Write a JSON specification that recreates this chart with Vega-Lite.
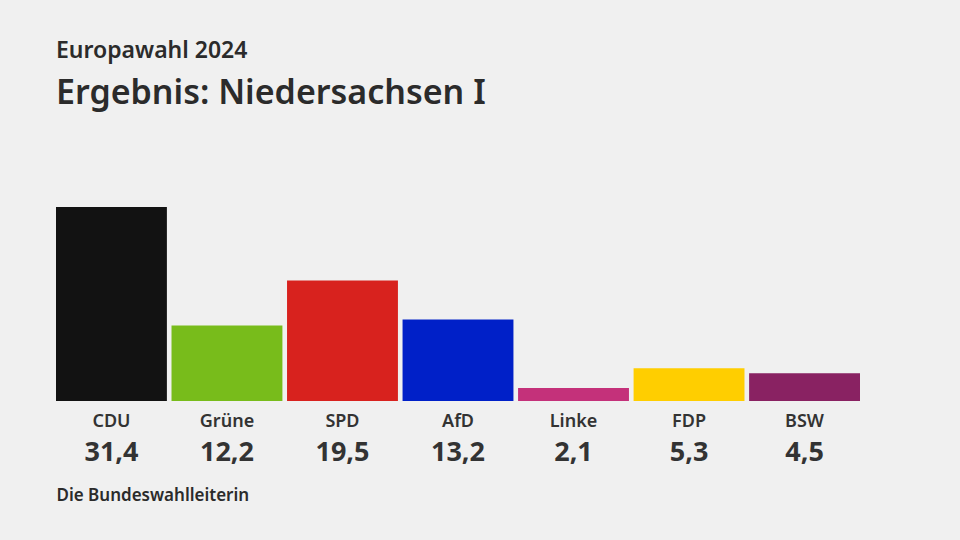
{
  "$schema": "https://vega.github.io/schema/vega-lite/v6.json",
  "width": 804,
  "height": 194,
  "autosize": {"type": "none"},
  "padding": {"left": 56, "top": 207, "right": 100, "bottom": 139},
  "background": "#f0f0f0",
  "config": {
    "view": {"stroke": null},
    "font": "Noto Sans",
    "locale": {"number": {"decimal": ",", "thousands": ".", "grouping": [3], "currency": ["", " €"]}}
  },
  "title": {
    "text": "Europawahl 2024",
    "subtitle": "Ergebnis: Niedersachsen I",
    "anchor": "start",
    "frame": "group",
    "font": "Noto Sans",
    "subtitleFont": "Noto Sans",
    "fontSize": 23,
    "subtitleFontSize": 34,
    "fontWeight": 600,
    "subtitleFontWeight": 600,
    "color": "#2b2b2b",
    "subtitleColor": "#2b2b2b",
    "subtitlePadding": 14,
    "offset": 96
  },
  "data": {
    "values": [
      {"Partei": "CDU", "Wert": 31.4},
      {"Partei": "Grüne", "Wert": 12.2},
      {"Partei": "SPD", "Wert": 19.5},
      {"Partei": "AfD", "Wert": 13.2},
      {"Partei": "Linke", "Wert": 2.1},
      {"Partei": "FDP", "Wert": 5.3},
      {"Partei": "BSW", "Wert": 4.5}
    ]
  },
  "encoding": {
    "x": {
      "field": "Partei",
      "type": "nominal",
      "sort": null,
      "scale": {"paddingInner": 0.04, "paddingOuter": 0},
      "axis": {
        "title": "Die Bundeswahlleiterin",
        "titleAnchor": "start",
        "titleAlign": "left",
        "titleFontSize": 17,
        "titleFontWeight": 600,
        "titleColor": "#2b2b2b",
        "titlePadding": 57,
        "labelAngle": 0,
        "labelFontSize": 18,
        "labelFontWeight": 600,
        "labelColor": "#333333",
        "labelPadding": 11,
        "domain": false,
        "ticks": false
      }
    }
  },
  "layer": [
    {
      "mark": {"type": "bar"},
      "encoding": {
        "y": {
          "field": "Wert",
          "type": "quantitative",
          "scale": {"domain": [0, 31.4], "nice": false, "zero": true},
          "axis": null
        },
        "color": {
          "field": "Partei",
          "type": "nominal",
          "scale": {
            "domain": ["CDU", "Grüne", "SPD", "AfD", "Linke", "FDP", "BSW"],
            "range": ["#121212", "#78bc1b", "#d8221e", "#0020c8", "#c4317a", "#ffce00", "#892262"]
          },
          "legend": null
        }
      }
    },
    {
      "mark": {"type": "text", "baseline": "alphabetic", "dy": 60, "fontSize": 27, "fontWeight": "bold", "color": "#333333"},
      "encoding": {
        "y": {"datum": 0, "type": "quantitative"},
        "text": {"field": "Wert", "type": "quantitative", "format": ".1f"}
      }
    }
  ]
}
